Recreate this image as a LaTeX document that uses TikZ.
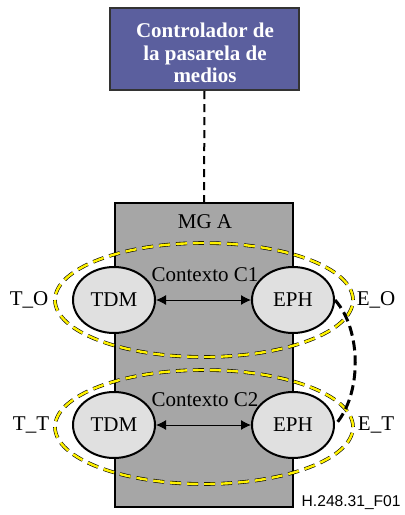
\documentclass[tikz,border=0pt]{standalone}
\usepackage{fontspec}
\setmainfont{Liberation Serif}
\setsansfont{Liberation Sans}
\usepackage{tikz}
\usetikzlibrary{shapes.geometric,arrows.meta}

\definecolor{ctrlblue}{HTML}{5B5F9E}
\definecolor{mggray}{HTML}{A6A6A6}
\definecolor{termgray}{HTML}{E0E0E0}
\definecolor{ctxyellow}{HTML}{FFF200}

\tikzset{
  txt/.style={font=\fontsize{10.5}{12}\selectfont, inner sep=0pt},
  term/.style={ellipse, draw, line width=1pt, fill=termgray, minimum width=41pt,
    minimum height=33pt, inner sep=0pt, txt},
  ctx/.style={ellipse, draw=black, line width=0.3pt, double=ctxyellow,
    double distance=1.2pt, dash pattern=on 5.5pt off 3pt, minimum width=149pt,
    minimum height=57pt, inner sep=0pt},
  link/.style={>={Latex[length=5pt,width=5pt]}, <->, line width=0.5pt}
}

\begin{document}
\begin{tikzpicture}[x=0.5pt, y=-0.5pt]
	  \useasboundingbox (0,0) rectangle (404,515);
	  % media gateway controller
	  \draw(204.5,49) node[draw=black!80, line width=1pt, fill=ctrlblue, minimum width=94.5pt,
	    minimum height=41pt](mgc) {};
	  \draw(205,53) node[align=center, text=white, inner sep=0pt,
	    font=\bfseries\fontsize{10.5}{11.3}\selectfont](mgctext) {Controlador de\\la pasarela de\\medios};
	  % media gateway
	  \draw(204,355) node[draw, line width=0.75pt, fill=mggray, minimum width=89pt,
	    minimum height=152pt, inner sep=0pt](mga) {};
	  \draw[dashed, line width=1pt, dash pattern=on 4pt off 2.5pt](mgc.south) -- (mga.north);
	  \draw(205,222) node[txt](mgalabel) {MG A};

	  % context C1
	  \draw(204,300) node[ctx](ctxone) {};
	  \draw(114,300) node[term](tdmone) {TDM};
	  \draw(293,300) node[term](ephone) {EPH};
	  \draw(205,275) node[txt](ctxonelabel) {Contexto C1};
	  \draw[link](tdmone.east) -- (ephone.west);
	  \draw(29,300) node[txt](to) {T\_O};
	  \draw(376,300) node[txt](eo) {E\_O};

	  % context C2
	  \draw(204,427) node[ctx](ctxtwo) {};
	  \draw(114,425) node[term](tdmtwo) {TDM};
	  \draw(293,425) node[term](ephtwo) {EPH};
	  \draw(205,400) node[txt](ctxtwolabel) {Contexto C2};
	  \draw[link](tdmtwo.east) -- (ephtwo.west);
	  \draw(31,425) node[txt](tt) {T\_T};
	  \draw(376,425) node[txt](et) {E\_T};

	  % transfer between the two EPH terminations
	  \draw[line width=1.5pt, dash pattern=on 5pt off 2.5pt](ephone.east)
	    .. controls (362,330) and (362,395) .. (ephtwo.east);

	  \draw(401,503) node[anchor=east, inner sep=0pt, font=\sffamily\fontsize{7.8}{9}\selectfont](fig) {H.248.31\_F01};
	\end{tikzpicture}
\end{document}
